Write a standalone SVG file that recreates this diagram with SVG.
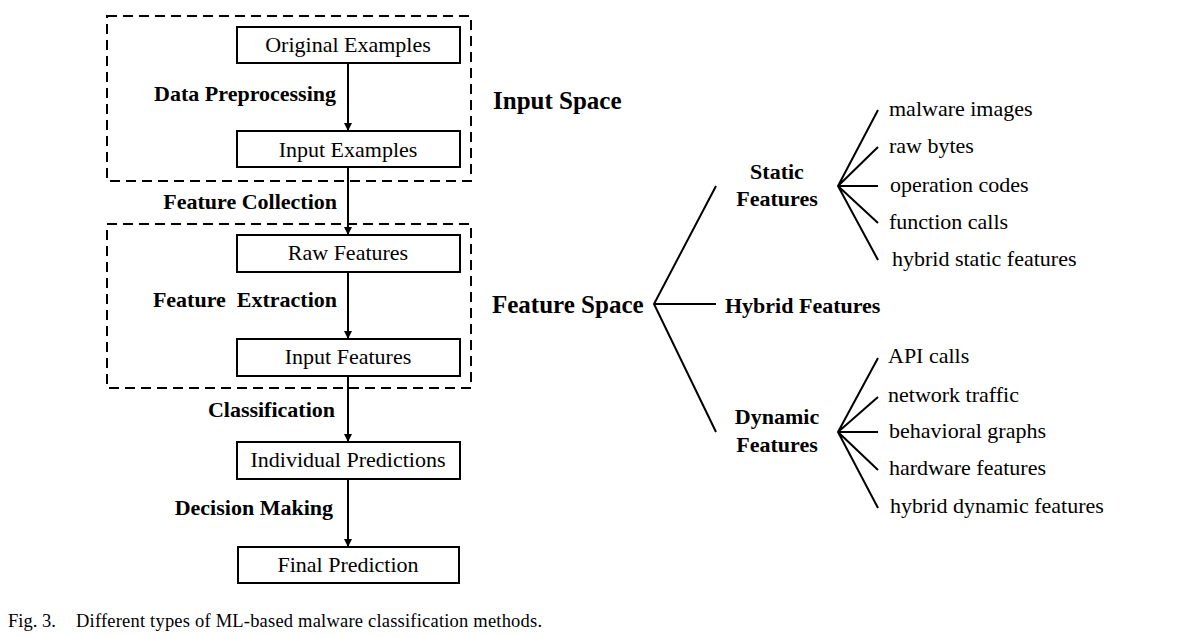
<svg xmlns="http://www.w3.org/2000/svg" width="1179" height="637" viewBox="0 0 1179 637">
<defs>
<marker id="ah" viewBox="0 0 10 10" refX="10" refY="5" markerWidth="8" markerHeight="8" markerUnits="userSpaceOnUse" orient="auto">
<path d="M0,0 L10,5 L0,10 z" fill="#000"/>
</marker>
<style>
.box{fill:#fff;stroke:#000;stroke-width:2}
.dash{fill:none;stroke:#000;stroke-width:2;stroke-dasharray:10 6}
.lbl{font-family:"Liberation Serif","Times New Roman",serif;font-size:22px;fill:#000;text-anchor:middle}
.bold{font-family:"Liberation Serif","Times New Roman",serif;font-size:22px;font-weight:bold;fill:#000}
.big{font-family:"Liberation Serif","Times New Roman",serif;font-size:25px;font-weight:bold;fill:#000}
.leaf{font-family:"Liberation Serif","Times New Roman",serif;font-size:22px;fill:#000}
.cap{font-family:"Liberation Serif","Times New Roman",serif;font-size:18.5px;fill:#000}
.arr{stroke:#000;stroke-width:2;fill:none;marker-end:url(#ah)}
.ln{stroke:#000;stroke-width:2;fill:none}
</style>
</defs>
<rect width="1179" height="637" fill="#fff"/>
<g id="regions">
<rect class="dash" x="107" y="16" width="364" height="165"/>
<rect class="dash" x="107" y="224" width="364" height="164"/>
</g>
<g id="connectors">
<line class="arr" x1="348" y1="63" x2="348" y2="131"/>
<line class="arr" x1="348" y1="167" x2="348" y2="235"/>
<line class="arr" x1="348" y1="272" x2="348" y2="339"/>
<line class="arr" x1="348" y1="376" x2="348" y2="442"/>
<line class="arr" x1="348" y1="479" x2="348" y2="547"/>
<path class="ln" d="M716,186 L654,304 L716,432 M654,304 L716,304"/>
<path class="ln" d="M878,110 L838,186 L878,260 M838,186 L878,147 M838,186 L878,186 M838,186 L878,223"/>
<path class="ln" d="M878,358 L838,432 L878,508 M838,432 L878,397 M838,432 L878,432 M838,432 L878,470"/>
</g>
<g id="edge-labels">
<text class="bold" x="336" y="101" text-anchor="end">Data Preprocessing</text>
<text class="bold" x="337" y="209" text-anchor="end">Feature Collection</text>
<text class="bold" x="337" y="307" text-anchor="end" xml:space="preserve">Feature  Extraction</text>
<text class="bold" x="335" y="417" text-anchor="end">Classification</text>
<text class="bold" x="333" y="515" text-anchor="end">Decision Making</text>
</g>
<g id="n-original"><rect class="box" x="237" y="27" width="223" height="36"/><text class="lbl" x="348" y="52">Original Examples</text></g>
<g id="n-input-examples"><rect class="box" x="237" y="131" width="223" height="36"/><text class="lbl" x="348" y="157">Input Examples</text></g>
<g id="n-raw-features"><rect class="box" x="237" y="235" width="223" height="37"/><text class="lbl" x="348" y="260">Raw Features</text></g>
<g id="n-input-features"><rect class="box" x="237" y="339" width="223" height="37"/><text class="lbl" x="348" y="364">Input Features</text></g>
<g id="n-individual"><rect class="box" x="237" y="442" width="223" height="37"/><text class="lbl" x="348" y="467">Individual Predictions</text></g>
<g id="n-final"><rect class="box" x="238" y="547" width="221" height="36"/><text class="lbl" x="348" y="572">Final Prediction</text></g>
<g id="n-input-space"><text class="big" x="493" y="109">Input Space</text></g>
<g id="n-feature-space"><text class="big" x="492" y="313">Feature Space</text></g>
<g id="n-static"><text class="bold" x="777" y="179" text-anchor="middle">Static</text><text class="bold" x="777" y="206" text-anchor="middle">Features</text></g>
<g id="n-hybrid"><text class="bold" x="725" y="313">Hybrid Features</text></g>
<g id="n-dynamic"><text class="bold" x="777" y="424" text-anchor="middle">Dynamic</text><text class="bold" x="777" y="452" text-anchor="middle">Features</text></g>
<g id="static-leaves">
<text class="leaf" x="889" y="116">malware images</text>
<text class="leaf" x="889" y="153">raw bytes</text>
<text class="leaf" x="890" y="192">operation codes</text>
<text class="leaf" x="889" y="229">function calls</text>
<text class="leaf" x="892" y="266">hybrid static features</text>
</g>
<g id="dynamic-leaves">
<text class="leaf" x="888" y="363">API calls</text>
<text class="leaf" x="888" y="402">network traffic</text>
<text class="leaf" x="889" y="438">behavioral graphs</text>
<text class="leaf" x="889" y="475">hardware features</text>
<text class="leaf" x="890" y="513">hybrid dynamic features</text>
</g>
<g id="caption">
<text class="cap" x="8" y="627">Fig. 3.</text>
<text class="cap" x="76" y="627" textLength="466" lengthAdjust="spacing">Different types of ML-based malware classification methods.</text>
</g>
</svg>
